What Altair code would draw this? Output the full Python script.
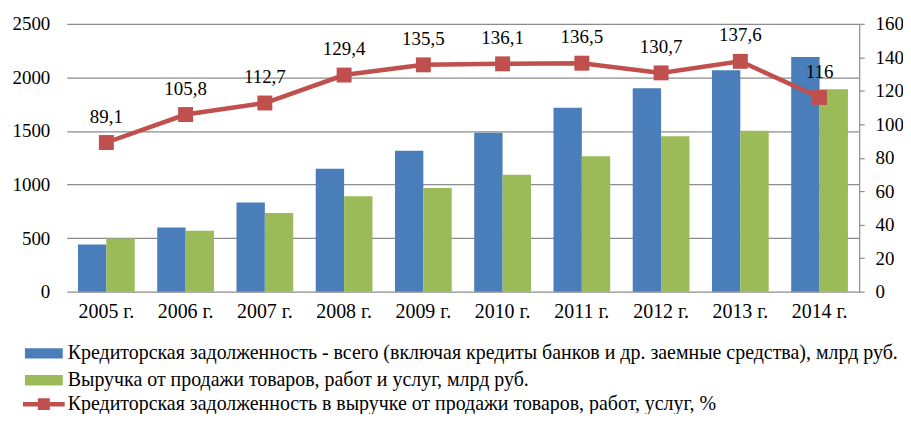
import altair as alt
import pandas as pd

years = ["2005 г.", "2006 г.", "2007 г.", "2008 г.", "2009 г.",
         "2010 г.", "2011 г.", "2012 г.", "2013 г.", "2014 г."]
debt = [441, 599, 832, 1148, 1316, 1483, 1716, 1898, 2066, 2190]
revenue = [497, 568, 735, 890, 968, 1092, 1263, 1451, 1502, 1889]
ratio = [89.1, 105.8, 112.7, 129.4, 135.5, 136.1, 136.5, 130.7, 137.6, 116]
ratio_labels = ["89,1", "105,8", "112,7", "129,4", "135,5",
                "136,1", "136,5", "130,7", "137,6", "116"]

S1 = "Кредиторская задолженность - всего (включая кредиты банков и др. заемные средства), млрд руб."
S2 = "Выручка от продажи товаров, работ и услуг, млрд руб."
S3 = "Кредиторская задолженность в выручке от продажи товаров, работ, услуг, %"

BLUE = "#4A7EBB"
GREEN = "#9BBB59"
RED = "#C0504D"
GRID = "#8C8C8C"
FONT = "Liberation Serif"

bars_df = pd.DataFrame(
    [{"year": y, "series": S1, "value": v} for y, v in zip(years, debt)]
    + [{"year": y, "series": S2, "value": v} for y, v in zip(years, revenue)]
)
line_df = pd.DataFrame({"year": years, "ratio": ratio, "label": ratio_labels, "series": S3})

x_axis = alt.Axis(title=None, labelAngle=0, domain=False, ticks=False,
                  labelPadding=10, labelFontSize=20, labelFont=FONT,
                  labelColor="black")
x_scale = alt.Scale(paddingInner=0.284, paddingOuter=0.142)

bars = alt.Chart(bars_df).mark_bar().encode(
    x=alt.X("year:N", sort=years, scale=x_scale, axis=x_axis),
    xOffset=alt.XOffset("series:N", sort=[S1, S2],
                        scale=alt.Scale(paddingInner=0, paddingOuter=0)),
    y=alt.Y("value:Q", scale=alt.Scale(domain=[0, 2500], nice=False),
            axis=alt.Axis(title=None, orient="left", values=[0, 500, 1000, 1500, 2000, 2500],
                          format="d", labelOverlap=False,
                          domain=False, ticks=False, grid=True, gridColor=GRID,
                          gridWidth=1.2, labelPadding=17, labelFontSize=19,
                          labelFont=FONT, labelColor="black")),
    color=alt.Color("series:N",
                    scale=alt.Scale(domain=[S1, S2], range=[BLUE, GREEN]),
                    legend=alt.Legend(title=None, orient="none", legendX=-33, legendY=321,
                                      symbolType="M-1.9,-0.525H1.9V0.525H-1.9Z",
                                      symbolSize=400, symbolStrokeWidth=0,
                                      labelFontSize=20, labelFont=FONT, labelColor="black",
                                      labelLimit=0, labelOffset=14, rowPadding=7,
                                      padding=0, direction="vertical")),
)

right_axis = alt.Axis(title=None, orient="right", values=list(range(0, 161, 20)),
                      format="d", labelOverlap=False,
                      grid=False, domain=True, domainColor=GRID, domainWidth=1.2,
                      ticks=True, tickColor=GRID, tickSize=5, tickWidth=1.2,
                      labelPadding=11, labelFontSize=19, labelFont=FONT,
                      labelColor="black")
right_scale = alt.Scale(domain=[0, 160], nice=False)

line = alt.Chart(line_df).mark_line(color=RED, strokeWidth=4.5).encode(
    x=alt.X("year:N", sort=years, scale=x_scale, axis=x_axis),
    y=alt.Y("ratio:Q", scale=right_scale, axis=right_axis))

squares = alt.Chart(line_df).mark_square(size=225, opacity=1, filled=True).encode(
    x=alt.X("year:N", sort=years, scale=x_scale, axis=x_axis),
    y=alt.Y("ratio:Q", scale=right_scale, axis=right_axis),
    color=alt.Color("series:N",
                    scale=alt.Scale(domain=[S3], range=[RED]),
                    legend=alt.Legend(title=None, orient="none", legendX=-33, legendY=372,
                                      symbolType="M-2.1,-0.225H2.1V0.225H-2.1Z M-0.6,-0.6H0.6V0.6H-0.6Z",
                                      symbolSize=400, symbolStrokeWidth=0,
                                      labelFontSize=20, labelFont=FONT, labelColor="black",
                                      labelLimit=0, labelOffset=14, padding=0)),
)

labels = alt.Chart(line_df).mark_text(dy=-20, baseline="alphabetic", fontSize=19,
                                      font=FONT, color="black").encode(
    x=alt.X("year:N", sort=years, scale=x_scale, axis=x_axis),
    y=alt.Y("ratio:Q", scale=right_scale, axis=right_axis),
    text="label:N")

right = alt.layer(line, squares, labels)

chart = alt.layer(bars, right).resolve_scale(
    y="independent", color="independent"
).properties(
    width=796, height=269, autosize="none",
    padding={"left": 59, "top": 15, "right": 44, "bottom": 122},
).configure(font=FONT).configure_view(stroke=None)

chart.save("out.html", embed_options={"renderer": "svg", "actions": False})
